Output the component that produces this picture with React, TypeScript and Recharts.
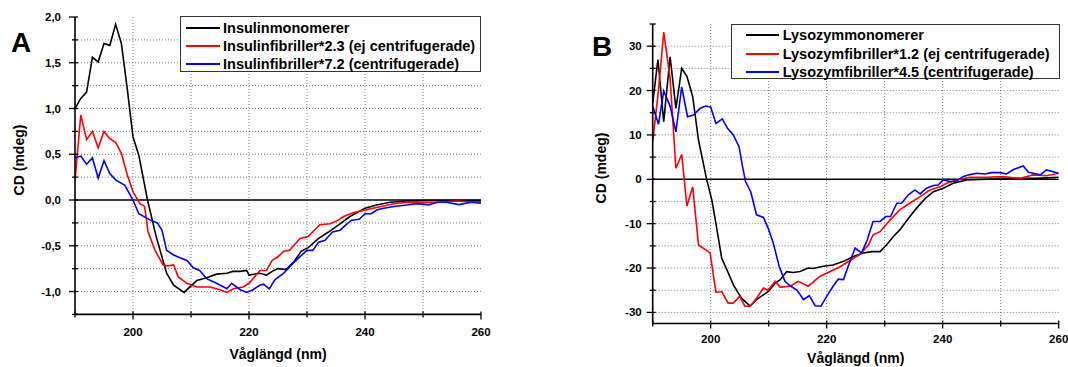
import React from "react";
import { LineChart, Line, XAxis, YAxis, CartesianGrid, ReferenceLine } from "recharts";

const FONT = '"Liberation Sans", Arial, Helvetica, sans-serif';

// Panel A: insulin (CD in mdeg vs wavelength in nm)
const insMonoNm = [190, 191, 192, 193, 194, 195, 196, 197, 198, 199, 200, 201, 202.5, 204, 205.8, 207, 208.8, 211, 212.7, 214.4, 216.2, 217.2, 218.4, 219.6, 220, 221.9, 223, 224, 225, 226.4, 227.8, 229, 230.2, 232, 233.7, 235.7, 237.4, 240, 242, 244.3, 247.2, 250, 255, 260];
const insMonoCd = [1.0, 1.11, 1.18, 1.56, 1.51, 1.71, 1.69, 1.92, 1.71, 1.22, 0.69, 0.49, 0, -0.4, -0.8, -0.93, -1.01, -0.88, -0.85, -0.81, -0.8, -0.78, -0.78, -0.77, -0.82, -0.8, -0.82, -0.78, -0.75, -0.76, -0.67, -0.56, -0.52, -0.42, -0.35, -0.26, -0.18, -0.09, -0.055, -0.025, -0.01, -0.007, -0.005, -0.005];

const insRedNm = [190, 191, 192, 193, 194, 195, 196, 197, 198, 199, 200, 201.2, 202, 202.6, 203.8, 205.2, 206, 207, 207.8, 209.3, 211, 213.3, 215, 216.2, 217.3, 219, 220, 221.9, 223, 224, 225, 226, 227, 228.8, 230.2, 232.2, 234, 235.4, 236.3, 238, 240, 241.4, 243.2, 245, 247.2, 250, 252, 255.8, 258, 260];
const insRedCd = [0.22, 0.93, 0.66, 0.75, 0.57, 0.75, 0.67, 0.63, 0.51, 0.28, 0.09, -0.04, -0.07, -0.35, -0.55, -0.71, -0.72, -0.71, -0.84, -0.91, -0.95, -0.95, -0.98, -1.01, -0.97, -0.95, -0.91, -0.77, -0.77, -0.66, -0.62, -0.56, -0.55, -0.42, -0.4, -0.27, -0.26, -0.22, -0.18, -0.14, -0.11, -0.09, -0.065, -0.04, -0.025, -0.03, -0.03, -0.01, -0.02, -0.02];

const insBlueNm = [190, 191, 192, 193, 194, 195, 196, 197, 198.6, 200, 201, 203, 204.2, 205, 205.8, 207, 208.1, 209.3, 210.4, 211.5, 212.7, 214.4, 216.2, 217, 218.5, 219.6, 220.7, 221.9, 222.5, 223.5, 224.5, 226, 227.3, 228.6, 230, 231, 232, 233.1, 234.4, 235.7, 236.9, 237.7, 239, 240, 241.1, 242, 243.2, 245, 247.2, 249, 251, 252.4, 254, 256.2, 258.3, 260];
const insBlueCd = [0.46, 0.48, 0.39, 0.46, 0.24, 0.43, 0.29, 0.22, 0.16, 0.0, -0.15, -0.22, -0.25, -0.33, -0.55, -0.6, -0.63, -0.66, -0.74, -0.77, -0.86, -0.91, -0.97, -0.91, -0.98, -1.01, -0.98, -0.93, -0.92, -0.97, -0.87, -0.8, -0.71, -0.63, -0.55, -0.55, -0.46, -0.44, -0.35, -0.33, -0.26, -0.22, -0.21, -0.15, -0.15, -0.11, -0.09, -0.07, -0.055, -0.04, -0.055, -0.025, -0.025, -0.05, -0.025, -0.035];

// Panel B: lysozyme
const lysMonoNm = [190, 190.9, 191.9, 193, 194, 195, 195.9, 196.9, 197.9, 199.3, 200.2, 201, 201.9, 202.8, 203.9, 205.3, 206.8, 207.9, 209.9, 211.1, 212, 213.1, 214.2, 215.4, 216.8, 217.6, 219.4, 221.1, 222.9, 224.6, 226.3, 227.8, 229.2, 230.3, 231.5, 232.6, 234.1, 235.5, 237, 238.4, 240.1, 241.8, 244.1, 247.6, 252.8, 256, 260];
const lysMonoCd = [17.1, 27.0, 13.0, 27.6, 16.0, 25.0, 23.2, 18.6, 8.8, 0, -4.7, -10.7, -17.8, -20.4, -23.8, -26.8, -28.6, -27.1, -25.3, -23.4, -22.6, -20.8, -21.0, -20.8, -20.0, -20.1, -19.6, -19.3, -18.5, -17.4, -16.6, -16.3, -16.3, -14.8, -12.9, -11.4, -8.8, -6.5, -4.3, -2.8, -2.0, -0.9, -0.15, 0, 0.2, 0.2, 0.45];

const lysRedNm = [190, 191, 191.9, 193, 194, 195, 195.9, 196.9, 197.9, 199.9, 200.9, 201.9, 203, 203.9, 205, 205.9, 206.8, 207.9, 209.1, 209.9, 211.1, 212, 213.7, 215.1, 216.8, 218.8, 220.6, 222.3, 224, 225.7, 227.2, 228, 229.2, 230.9, 232.6, 234.3, 236.1, 237.8, 239.5, 240.7, 242.4, 244.7, 247.6, 250.4, 253.3, 255.6, 257.9, 260];
const lysRedCd = [8.5, 20.1, 33.2, 22.7, 2.5, 5.6, -6.0, -1.7, -14.8, -16.6, -25.5, -25.3, -27.9, -27.9, -26.4, -28.6, -28.6, -26.8, -24.5, -25.0, -23.0, -24.3, -24.1, -23.0, -24.1, -21.9, -20.8, -19.7, -18.3, -17.0, -14.8, -12.5, -11.8, -9.2, -6.9, -5.4, -3.9, -2.4, -1.7, -0.9, -0.15, 0.45, 0.45, 0.6, 0.2, 1.0, 0.8, 1.35];

const lysBlueNm = [190, 191, 191.9, 193, 194, 195, 196, 197, 198.2, 199.1, 200, 200.9, 202, 202.9, 203.9, 204.9, 205.5, 206, 206.9, 207.9, 209.1, 209.9, 210.8, 211.8, 212.8, 213.7, 214.9, 216, 217, 218, 219, 220, 221.1, 222, 222.9, 223.7, 224.9, 226, 226.9, 228, 229.2, 230.2, 231, 232.1, 232.9, 234.1, 235.2, 236.1, 237.2, 238.4, 239.2, 240.1, 241.2, 242.4, 243.5, 244.5, 245.9, 247.3, 248.4, 249.9, 251, 252.2, 253.9, 254.8, 255.6, 256.8, 257.9, 260];
const lysBlueCd = [16.5, 12.4, 19.9, 16.5, 10.7, 20.8, 14.1, 14.5, 16.0, 16.5, 16.3, 12.6, 13.6, 11.5, 10.0, 7.3, 2.8, -0.5, -2.8, -8.0, -8.6, -11.0, -14.4, -19.6, -23.0, -24.0, -25.0, -27.1, -26.2, -28.5, -28.6, -26.4, -24.1, -22.5, -22.6, -19.6, -15.5, -16.6, -14.0, -9.5, -9.5, -8.4, -8.4, -5.4, -5.4, -3.5, -2.4, -3.3, -2.0, -1.4, -1.3, -0.15, -0.5, -0.4, 0.6, 1.0, 1.35, 1.2, 1.5, 1.5, 1.2, 2.2, 3.0, 1.6, 1.35, 1.0, 2.1, 1.35];

// axes
const xTicks = [190, 200, 210, 220, 230, 240, 250, 260];
const xLabeled = [200, 220, 240, 260];
const gridX = [200, 210, 220, 230, 240, 250];

const insYTicks = [-1.25, -1, -0.75, -0.5, -0.25, 0, 0.25, 0.5, 0.75, 1, 1.25, 1.5, 1.75, 2];
const insYLabeled = [-1, -0.5, 0, 0.5, 1, 1.5, 2];
const insGridY = [-1, -0.75, -0.5, -0.25, 0.25, 0.5, 0.75, 1, 1.25, 1.5, 1.75];

const lysYTicks = [-30, -25, -20, -15, -10, -5, 0, 5, 10, 15, 20, 25, 30, 35];
const lysYLabeled = [-30, -20, -10, 0, 10, 20, 30];
const lysGridY = [-30, -25, -20, -15, -10, -5, 5, 10, 15, 20, 25, 30];

const insNames = [
  "Insulinmonomerer",
  "Insulinfibriller*2.3 (ej centrifugerade)",
  "Insulinfibriller*7.2 (centrifugerade)",
];
const lysNames = [
  "Lysozymmonomerer",
  "Lysozymfibriller*1.2 (ej centrifugerade)",
  "Lysozymfibriller*4.5 (centrifugerade)",
];
const colors = ["#000000", "#ff0000", "#0000ff"];

type Pt = { nm: number; cd: number };
const zip = (nm: number[], cd: number[]): Pt[] => nm.map((x, i) => ({ nm: x, cd: cd[i] }));

const insSeries = [zip(insMonoNm, insMonoCd), zip(insRedNm, insRedCd), zip(insBlueNm, insBlueCd)];
const lysSeries = [zip(lysMonoNm, lysMonoCd), zip(lysRedNm, lysRedCd), zip(lysBlueNm, lysBlueCd)];

const tickText = { fontFamily: FONT, fontWeight: 700, fontSize: 11.5, fill: "#000" } as const;

function makeXTick(labelDy: number) {
  return (props: any) => {
    const { x, y, payload } = props;
    const major = xLabeled.includes(payload.value);
    return (
      <g>
        <line x1={x} x2={x} y1={y - 3} y2={y + (major ? 5 : 3)} stroke="#000" strokeWidth={1.3} />
        {major && (
          <text x={x} y={y + labelDy} textAnchor="middle" {...tickText}>
            {payload.value}
          </text>
        )}
      </g>
    );
  };
}

function makeYTick(labeled: number[], gap: number, fmt: (v: number) => string) {
  return (props: any) => {
    const { x, y, payload } = props;
    const major = labeled.includes(payload.value);
    return (
      <g>
        <line x1={x - (major ? 6 : 3)} x2={x + 3} y1={y} y2={y} stroke="#000" strokeWidth={1.3} />
        {major && (
          <text x={x - gap} y={y + 4} textAnchor="end" {...tickText}>
            {fmt(payload.value)}
          </text>
        )}
      </g>
    );
  };
}

const titleText = { fontFamily: FONT, fontWeight: 700, fontSize: 14, fill: "#000" } as const;

function Legend({ names, left, top, width, height, rows, lineX, lineW, textX }: {
  names: string[]; left: number; top: number; width: number; height: number;
  rows: number[]; lineX: number; lineW: number; textX: number;
}) {
  return (
    <div
      style={{
        position: "absolute", left, top, width, height, boxSizing: "border-box",
        border: "1.5px solid #333", background: "#fff",
      }}
    >
      {names.map((n, i) => (
        <div key={n} style={{ position: "absolute", left: 0, top: rows[i] - 9, height: 18, width: "100%" }}>
          <div style={{ position: "absolute", left: lineX, top: 8, width: lineW, height: 2, background: colors[i] }} />
          <div
            style={{
              position: "absolute", left: textX, top: 0, lineHeight: "18px", whiteSpace: "nowrap",
              fontFamily: FONT, fontWeight: 700, fontSize: 14.5, color: "#000",
            }}
          >
            {n}
          </div>
        </div>
      ))}
    </div>
  );
}

function Panel({ letter, letterX, series, names, width, margin, yWidth, xHeight, yDomain, yTicks, yLabeled,
  gridY, yGap, fmt, xLabelDy, yTitle, xTitle, legend }: any) {
  return (
    <div style={{ position: "absolute", left: 0, top: 0, width, height: 367 }}>
      <LineChart width={width} height={367} margin={margin}>
        <CartesianGrid stroke="#7a7a7a" strokeDasharray="1 2" horizontalValues={gridY} verticalValues={gridX} />
        <XAxis
          dataKey="nm" type="number" domain={[190, 260]} ticks={xTicks} interval={0} allowDataOverflow
          height={xHeight} axisLine={{ stroke: "#000", strokeWidth: 1.6 }} tickLine={false} tickSize={0}
          tickMargin={0} tick={makeXTick(xLabelDy)}
          label={() => (
            <text x={xTitle[0]} y={xTitle[1]} textAnchor="middle" {...titleText}>Våglängd (nm)</text>
          )}
        />
        <YAxis
          type="number" domain={yDomain} ticks={yTicks} interval={0} allowDataOverflow width={yWidth}
          axisLine={{ stroke: "#000", strokeWidth: 1.6 }} tickLine={false} tickSize={0} tickMargin={0}
          tick={makeYTick(yLabeled, yGap, fmt)}
          label={() => (
            <text x={yTitle[0]} y={yTitle[1]} transform={`rotate(-90 ${yTitle[0]} ${yTitle[1]})`}
              textAnchor="middle" {...titleText}>CD (mdeg)</text>
          )}
        />
        <ReferenceLine y={0} stroke="#000" strokeWidth={1.5} />
        {series.map((d: Pt[], i: number) => (
          <Line key={names[i]} name={names[i]} data={d} dataKey="cd" type="linear" stroke={colors[i]}
            strokeWidth={1.6} dot={false} activeDot={false} isAnimationActive={false} />
        ))}
      </LineChart>
      <Legend names={names} {...legend} />
      <div
        style={{
          position: "absolute", left: letterX, top: legend.letterTop, fontFamily: FONT, fontWeight: 700,
          fontSize: 28, lineHeight: "28px", color: "#000",
        }}
      >
        {letter}
      </div>
    </div>
  );
}

export default function App() {
  return (
    <div style={{ position: "absolute", left: 0, top: 0, width: 1068, height: 367, background: "#fff", overflow: "hidden" }}>
      <div style={{ position: "absolute", left: 0, top: 0 }}>
        <Panel
          letter="A" letterX={11} series={insSeries} names={insNames} width={500}
          margin={{ top: 17, right: 19, bottom: 0, left: 0 }} yWidth={75} xHeight={52.6}
          yDomain={[-1.25, 2]} yTicks={insYTicks} yLabeled={insYLabeled} gridY={insGridY} yGap={14}
          fmt={(v: number) => v.toFixed(1).replace(".", ",")} xLabelDy={21.5}
          yTitle={[24, 160]} xTitle={[278, 359]}
          legend={{ left: 180, top: 16, width: 301, height: 56, rows: [10.7, 29, 47.3], lineX: 5, lineW: 34, textX: 42, letterTop: 29 }}
        />
      </div>
      <div style={{ position: "absolute", left: 534, top: 0 }}>
        <Panel
          letter="B" letterX={58} series={lysSeries} names={lysNames} width={534}
          margin={{ top: 24, right: 9.3, bottom: 0, left: 0 }} yWidth={118.7} xHeight={43.5}
          yDomain={[-32.5, 35]} yTicks={lysYTicks} yLabeled={lysYLabeled} gridY={lysGridY} yGap={11}
          fmt={(v: number) => String(v)} xLabelDy={19.5}
          yTitle={[71.5, 168]} xTitle={[321.7, 362.5]}
          legend={{ left: 196.7, top: 24, width: 329.3, height: 55, rows: [10.3, 29.3, 47], lineX: 14, lineW: 33, textX: 51, letterTop: 33 }}
        />
      </div>
    </div>
  );
}
